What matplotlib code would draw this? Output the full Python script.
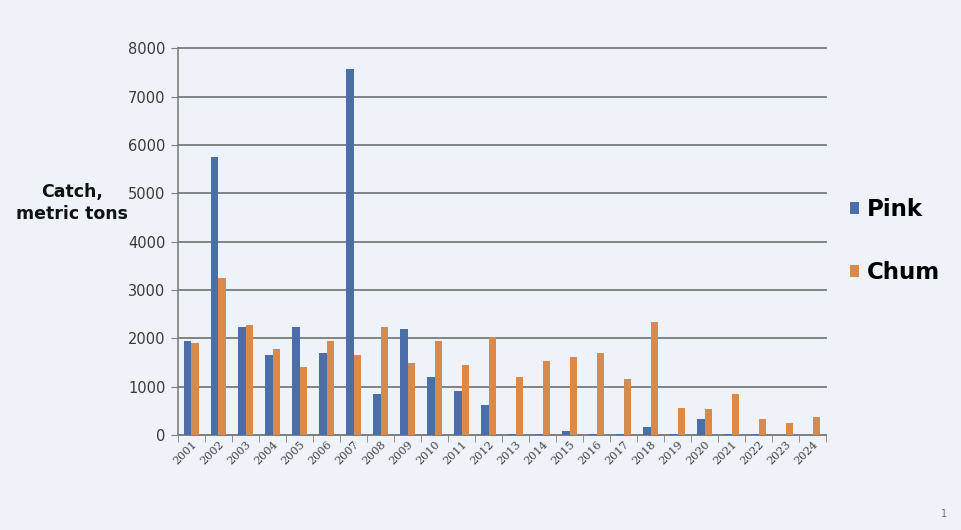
import numpy as np
import matplotlib.pyplot as plt

years = [str(y) for y in range(2001, 2025)]
pink = [1950, 5750, 2240, 1650, 2240, 1700, 7580, 860, 2190, 1200, 910, 620,
        20, 30, 80, 30, 20, 170, 20, 340, 15, 20, 0, 0]
chum = [1910, 3240, 2280, 1780, 1400, 1940, 1650, 2240, 1490, 1940, 1460, 2020,
        1200, 1530, 1620, 1700, 1160, 2340, 570, 545, 860, 340, 250, 370]

pink_color = '#4a6ea9'
chum_color = '#d9894a'

fig = plt.figure(figsize=(9.62, 5.3), dpi=100, facecolor='#edf3f8')
ax = fig.add_axes([0.185, 0.179, 0.674, 0.730])
ax.set_facecolor('none')

x = np.arange(len(years))
w = 0.28
ax.bar(x - w / 2, pink, width=w, color=pink_color, label='Pink', zorder=3)
ax.bar(x + w / 2, chum, width=w, color=chum_color, label='Chum', zorder=3)

ax.set_xlim(-0.5, len(years) - 0.5)
ax.set_ylim(0, 8000)
ax.set_yticks(range(0, 8001, 1000))
ax.tick_params(axis='y', labelsize=10.5, length=5, color='#808080', labelcolor='#3a3a3a', pad=4)
ax.yaxis.grid(True, color='#7a7a7a', linewidth=1.3, zorder=0)
for gl in ax.get_ygridlines():
    gl.set_clip_on(False)

ax.set_xticks(x)
ax.set_xticklabels(years, rotation=45, ha='right', rotation_mode='anchor',
                   fontsize=8, color='#404040', family='DejaVu Serif')
ax.tick_params(axis='x', length=0, pad=3)
ax.set_xticks(np.arange(-0.5, len(years)), minor=True)
ax.tick_params(axis='x', which='minor', length=5, color='#808080')

for s in ['top', 'right']:
    ax.spines[s].set_visible(False)
ax.spines['left'].set_color('#808080')
ax.spines['bottom'].set_color('#808080')
ax.spines['left'].set_linewidth(1.2)
ax.spines['bottom'].set_linewidth(1.2)

fig.text(0.075, 0.617, 'Catch,\nmetric tons', ha='center', va='center',
         fontsize=12.5, fontweight='bold', color='#111111', linespacing=1.3)

fig.legend(loc='upper left', bbox_to_anchor=(0.862, 0.665), frameon=False,
           prop={'weight': 'bold', 'size': 16.5},
           handlelength=0.4, handleheight=0.4, handletextpad=0.35,
           labelspacing=1.75)

fig.text(0.985, 0.025, '1', fontsize=7, color='#707070', ha='right')

fig.savefig('out.png', dpi=100, facecolor=fig.get_facecolor())
